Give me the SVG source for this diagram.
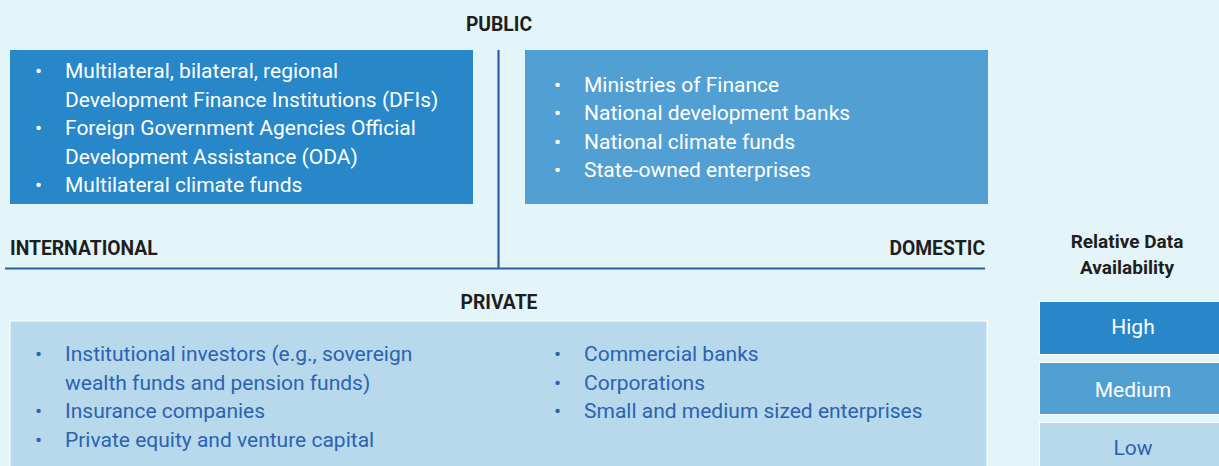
<svg xmlns="http://www.w3.org/2000/svg" width="1219" height="466" viewBox="0 0 1219 466">
<style>
.hd{font-family:Roboto,"Liberation Sans",sans-serif;font-weight:bold;font-size:19.3px;fill:#1e1e1e}
.lg{font-family:Roboto,"Liberation Sans",sans-serif;font-weight:bold;font-size:19px;fill:#1e1e1e}
.tw{font-family:Roboto,"Liberation Sans",sans-serif;font-size:21px;fill:#ffffff}
.tb{font-family:Roboto,"Liberation Sans",sans-serif;font-size:21px;fill:#2b63b0}
.ax{stroke:#2a5ea9;stroke-width:2.2;fill:none}
</style>
<rect width="1219" height="466" fill="#e3f5f9"/>
<g id="axes">
<line class="ax" x1="498.5" y1="50" x2="498.5" y2="269"/>
<line class="ax" x1="5" y1="268.5" x2="985" y2="268.5"/>
</g>
<text class="hd" x="499" y="31" text-anchor="middle">PUBLIC</text>
<text class="hd" x="10" y="255">INTERNATIONAL</text>
<text class="hd" x="985" y="255" text-anchor="end">DOMESTIC</text>
<text class="hd" x="499" y="309" text-anchor="middle">PRIVATE</text>
<g id="intl-public">
<rect x="10" y="50" width="463" height="154" fill="#2787c8"/>
<g class="tw">
<text x="35" y="78">•</text><text x="65" y="78">Multilateral, bilateral, regional</text>
<text x="65" y="107">Development Finance Institutions (DFIs)</text>
<text x="35" y="135">•</text><text x="65" y="135">Foreign Government Agencies Official</text>
<text x="65" y="164">Development Assistance (ODA)</text>
<text x="35" y="192">•</text><text x="65" y="192">Multilateral climate funds</text>
</g>
</g>
<g id="dom-public">
<rect x="525" y="50" width="463" height="154" fill="#529fd3"/>
<g class="tw">
<text x="554" y="92">•</text><text x="584" y="92">Ministries of Finance</text>
<text x="554" y="120">•</text><text x="584" y="120">National development banks</text>
<text x="554" y="149">•</text><text x="584" y="149">National climate funds</text>
<text x="554" y="177">•</text><text x="584" y="177">State-owned enterprises</text>
</g>
</g>
<g id="private">
<rect x="10" y="321" width="977" height="150" fill="#b8d8ec" stroke="#ffffff" stroke-width="1"/>
<g class="tb">
<text x="35" y="361">•</text><text x="65" y="361">Institutional investors (e.g., sovereign</text>
<text x="65" y="390">wealth funds and pension funds)</text>
<text x="35" y="418">•</text><text x="65" y="418">Insurance companies</text>
<text x="35" y="447">•</text><text x="65" y="447">Private equity and venture capital</text>
<text x="554" y="361">•</text><text x="584" y="361">Commercial banks</text>
<text x="554" y="390">•</text><text x="584" y="390">Corporations</text>
<text x="554" y="418">•</text><text x="584" y="418">Small and medium sized enterprises</text>
</g>
</g>
<g id="legend">
<text class="lg" x="1127" y="248" text-anchor="middle">Relative Data</text>
<text class="lg" x="1127" y="274" text-anchor="middle">Availability</text>
<g id="legend-high">
<rect x="1039.5" y="301.5" width="185" height="53" fill="#2787c8" stroke="#ffffff" stroke-width="1"/>
<text class="tw" x="1133" y="334" text-anchor="middle">High</text>
</g>
<g id="legend-medium">
<rect x="1039.5" y="362.5" width="185" height="52" fill="#529fd3" stroke="#ffffff" stroke-width="1"/>
<text class="tw" x="1133" y="397" text-anchor="middle">Medium</text>
</g>
<g id="legend-low">
<rect x="1039.5" y="422.5" width="185" height="50" fill="#b8d8ec" stroke="#ffffff" stroke-width="1"/>
<text class="tb" x="1133" y="455" text-anchor="middle">Low</text>
</g>
</g>
</svg>
